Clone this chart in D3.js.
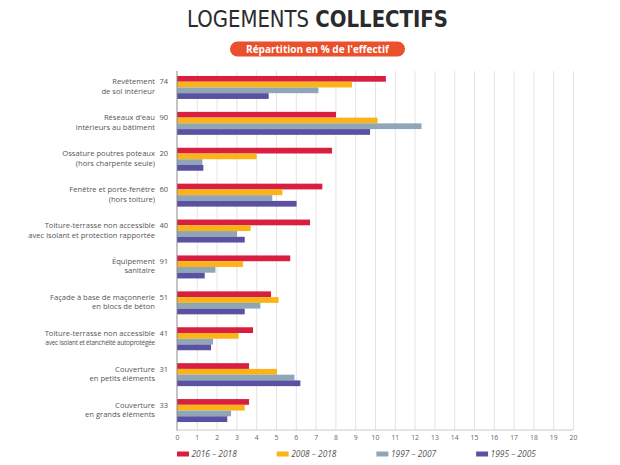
<!DOCTYPE html>
<html>
<head>
<meta charset="utf-8">
<script src="https://cdn.jsdelivr.net/npm/d3@7"></script>
<style>
  body { margin: 0; background: #fff; }
  svg { display: block; }
</style>
</head>
<body>
<svg id="vis" width="620" height="465"></svg>
<script>
var vis = d3.select("#vis");

// categories: two text lines + effectif
var labels1 = ["Revêtement", "Réseaux d'eau", "Ossature poutres poteaux", "Fenêtre et porte-fenêtre",
    "Toiture-terrasse non accessible", "Équipement", "Façade à base de maçonnerie",
    "Toiture-terrasse non accessible", "Couverture", "Couverture"];
var labels2 = ["de sol intérieur", "intérieurs au bâtiment", "(hors charpente seule)", "(hors toiture)",
    "avec isolant et protection rapportée", "sanitaire", "en blocs de béton",
    "avec isolant et étanchéité autoprotégée", "en petits éléments", "en grands éléments"];
var counts = [74, 90, 20, 60, 40, 91, 51, 41, 31, 33];

// series
var seriesNames = ["2016 – 2018", "2008 – 2018", "1997 – 2007", "1995 – 2005"];
var colors = ["#d81f3f", "#fbb317", "#90a6b6", "#5a51a2"];
var v2016 = [10.55, 8.03, 7.83, 7.34, 6.72, 5.72, 4.75, 3.84, 3.64, 3.64];
var v2008 = [8.84, 10.13, 4.02, 5.32, 3.72, 3.33, 5.13, 3.11, 5.05, 3.42];
var v1997 = [7.14, 12.35, 1.28, 4.81, 3.03, 1.94, 4.21, 1.82, 5.93, 2.73];
var v1995 = [4.63, 9.75, 1.33, 6.04, 3.42, 1.40, 3.42, 1.72, 6.23, 2.54];
var series = [v2016, v2008, v1997, v1995];

var xTicks = d3.range(0, 21);

var x = d3.scaleLinear().domain([0, 20]).range([177, 573]);
var y = d3.scaleBand().domain(d3.range(labels1.length)).range([69.5, 428.5]).paddingInner(0.36).paddingOuter(0.18);
var ySub = d3.scaleBand().domain(d3.range(4)).range([0, y.bandwidth()]);

// title
var title = vis.append("text")
    .attr("x", 187).attr("y", 27)
    .attr("textLength", 261).attr("lengthAdjust", "spacingAndGlyphs")
    .attr("font-family", "'Liberation Sans Narrow', 'DejaVu Sans Condensed', sans-serif")
    .attr("font-size", 23)
    .attr("fill", "#2b2b2b");
title.append("tspan").attr("font-weight", 300).text("LOGEMENTS ");
title.append("tspan").attr("font-weight", "bold").text("COLLECTIFS");

// subtitle pill
vis.append("rect")
    .attr("x", 230).attr("y", 41.5).attr("width", 175).attr("height", 15)
    .attr("rx", 7.5).attr("fill", "#e9502b");
vis.append("text")
    .attr("x", 317.5).attr("y", 52.5)
    .attr("text-anchor", "middle")
    .attr("font-family", "'Open Sans', sans-serif")
    .attr("font-weight", "bold")
    .attr("font-size", 10)
    .attr("fill", "#fff")
    .text("Répartition en % de l'effectif");

// grid
vis.append("g").selectAll("line").data(xTicks.slice(1)).join("line")
    .attr("x1", d => x(d) + 0.5).attr("x2", d => x(d) + 0.5)
    .attr("y1", 71).attr("y2", 430)
    .attr("stroke", "#e4e4e4").attr("stroke-width", 1);

// bars
var groups = vis.append("g").selectAll("g").data(d3.range(labels1.length)).join("g")
    .attr("transform", i => `translate(0 ${y(i)})`);

groups.selectAll("rect").data(i => series.map((s, k) => ({ k: k, v: s[i] }))).join("rect")
    .attr("x", x(0))
    .attr("y", d => ySub(d.k))
    .attr("width", d => x(d.v) - x(0))
    .attr("height", ySub.bandwidth())
    .attr("fill", d => colors[d.k]);

// category labels
var font = "'Open Sans', sans-serif";
groups.append("text")
    .attr("x", 155).attr("y", 8.5)
    .attr("text-anchor", "end")
    .attr("font-family", font).attr("font-size", 7.6)
    .attr("fill", "#555")
    .text(i => labels1[i]);
groups.append("text")
    .attr("x", 155).attr("y", 18)
    .attr("text-anchor", "end")
    .attr("font-family", font).attr("font-size", i => i === 7 ? 6.6 : 7.6)
    .attr("letter-spacing", i => i === 7 ? -0.3 : 0)
    .attr("fill", "#555")
    .text(i => labels2[i]);
groups.append("text")
    .attr("x", 159.5).attr("y", 8.5)
    .attr("font-family", font).attr("font-size", 7.6)
    .attr("fill", "#555")
    .text(i => counts[i]);

// axes
var xAxis = vis.append("g")
    .attr("transform", "translate(0 430)")
    .call(d3.axisBottom(x).tickValues(xTicks).tickSize(0).tickPadding(5));
xAxis.select(".domain").remove();
xAxis.selectAll("text")
    .attr("font-family", font).attr("font-size", 6.8).attr("fill", "#666");

vis.append("line")
    .attr("x1", x(0)).attr("x2", x(0))
    .attr("y1", 71).attr("y2", 430.5)
    .attr("stroke", "#8a8a8a").attr("stroke-width", 1);
vis.append("line")
    .attr("x1", x(0)).attr("x2", x(20))
    .attr("y1", 430).attr("y2", 430)
    .attr("stroke", "#bcbcbc").attr("stroke-width", 0.8);

// legend
var legend = vis.append("g").selectAll("g").data(seriesNames).join("g")
    .attr("transform", (d, i) => `translate(${177 + i * 99.7} 451.5)`);
legend.append("rect")
    .attr("width", 12).attr("height", 5)
    .attr("fill", (d, i) => colors[i]);
legend.append("text")
    .attr("x", 14.5).attr("y", 5.7)
    .attr("font-family", font).attr("font-style", "italic")
    .attr("font-size", 8.4).attr("fill", "#555")
    .text(d => d);
</script>
</body>
</html>
